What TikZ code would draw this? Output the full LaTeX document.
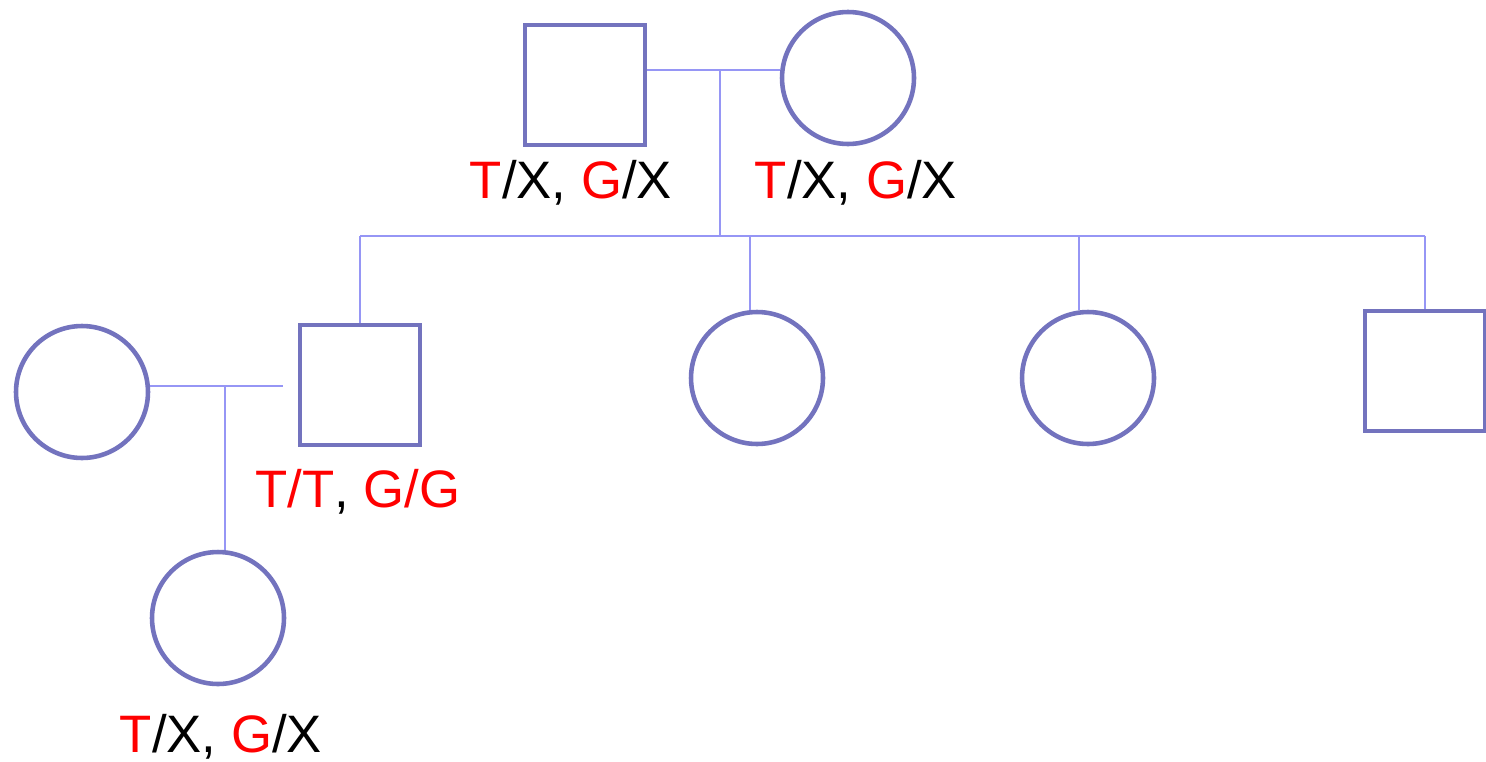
\documentclass[tikz,border=0pt]{standalone}
\usepackage{fontspec}
\setmainfont{Liberation Sans}
\definecolor{pedblue}{RGB}{115,115,190}
\definecolor{kinblue}{RGB}{150,150,245}
\begin{document}
\begin{tikzpicture}[
        x=0.02cm, y=-0.02cm,
        male/.style={rectangle, draw=pedblue, line width=2.6pt, minimum size=2.4cm, inner sep=0pt},
        female/.style={circle, draw=pedblue, line width=2.6pt, minimum size=2.64cm, inner sep=0pt},
        kin/.style={draw=kinblue, line width=0.85pt},
        geno/.style={anchor=base, inner sep=0pt, font=\fontsize{30pt}{36pt}\selectfont}
    ]
    \useasboundingbox (0,0) rectangle (1486,761);
    % parents
    \node[male] (dad) at (585,85) {};
    \node[female] (mum) at (848,78) {};
    \node[geno] (dadlab) at (571,198) {\textcolor{red}{T}/X, \textcolor{red}{G}/X};
    \node[geno] (mumlab) at (856,198) {\textcolor{red}{T}/X, \textcolor{red}{G}/X};
    % children
    \node[male] (kid1) at (360,385) {};
    \node[female] (kid2) at (757,378) {};
    \node[female] (kid3) at (1088,378) {};
    \node[male] (kid4) at (1425,371) {};
    \node[geno] (kidlab) at (358,507) {\textcolor{red}{T/T}, \textcolor{red}{G/G}};
    % spouse and grandchild
    \node[female] (wife) at (82,392) {};
    \node[female] (grand) at (218,618) {};
    \node[geno] (grandlab) at (221,752) {\textcolor{red}{T}/X, \textcolor{red}{G}/X};
    \coordinate (m1) at (720,70);
    \coordinate (sib) at (720,236);
    \coordinate (m2) at (225,386);
    \draw[kin] (dad.east |- m1) -- (mum.west |- m1);
    \draw[kin] (m1) -- (sib);
    \draw[kin] (kid1 |- sib) -- (kid4 |- sib);
    \draw[kin] (kid1 |- sib) -- (kid1.north);
    \draw[kin] ([xshift=-0.14cm]kid2.north |- sib) -- ([xshift=-0.14cm]kid2.north);
    \draw[kin] ([xshift=-0.18cm]kid3.north |- sib) -- ([xshift=-0.18cm]kid3.north);
    \draw[kin] (kid4 |- sib) -- (kid4.north);
    \draw[kin] (wife.east |- m2) -- ([xshift=-0.3cm]kid1.west |- m2);
    \draw[kin] (m2) -- (m2 |- grand.north);
\end{tikzpicture}
\end{document}
